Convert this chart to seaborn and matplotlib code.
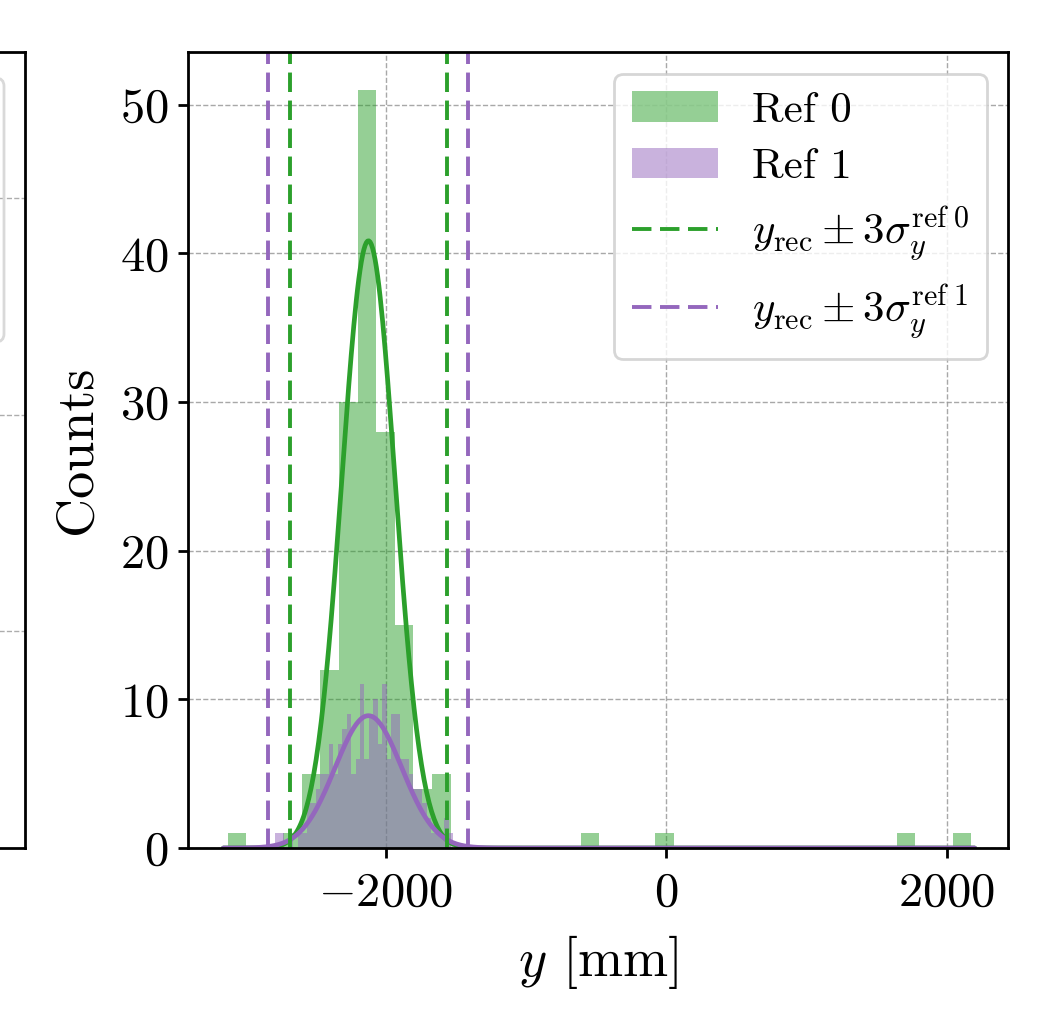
import numpy as np
import pandas as pd
import matplotlib
matplotlib.use("Agg")
import matplotlib.pyplot as plt
from matplotlib.patches import FancyBboxPatch
import seaborn as sns

# ---------------- data ----------------
# Ref 0 histogram (40 bins)
ref0_range = (-3130.0, 2175.0)
ref0_counts = [1, 0, 0, 1, 5, 12, 30, 51, 28, 15,
               4, 5, 0, 0, 0, 0, 0, 0, 0, 1,
               0, 0, 0, 1, 0, 0, 0, 0, 0, 0,
               0, 0, 0, 0, 0, 0, 1, 0, 0, 1]
# Ref 1 histogram (40 bins)
ref1_range = (-2788.0, -1519.0)
ref1_counts = [1, 1, 0, 1, 0, 1, 1, 3, 3, 4,
               5, 5, 7, 5, 7, 8, 9, 5, 6, 11,
               6, 9, 10, 7, 11, 6, 9, 9, 6, 6,
               5, 4, 4, 3, 2, 1, 1, 1, 2, 1]
# Gaussian fits: (mean, sigma, amplitude)
fit_ref0 = (-2125.0, 190.0, 40.85)
fit_ref1 = (-2125.0, 238.0, 8.9)
# y_rec +/- 3 sigma lines
lines_ref0 = [-2681.0, -1561.0]
lines_ref1 = [-2838.0, -1412.0]
xticks = [-2000, 0, 2000]
yticks = [0, 10, 20, 30, 40, 50]

C0 = "#2ca02c"
C1 = "#9467bd"
LAB0 = r"$y_{\mathrm{rec}} \pm 3\sigma_y^{\mathrm{ref}\;0}$"
LAB1 = r"$y_{\mathrm{rec}} \pm 3\sigma_y^{\mathrm{ref}\;1}$"

# ---------------- style ----------------
sns.set_style("white")
plt.rcParams["font.family"] = ["serif"]
plt.rcParams["font.serif"] = ["cmr10", "DejaVu Serif"]
plt.rcParams["mathtext.fontset"] = "cm"
plt.rcParams["axes.formatter.use_mathtext"] = True
plt.rcParams["axes.unicode_minus"] = True
for k in ["text.color", "axes.labelcolor", "xtick.color", "ytick.color"]:
    plt.rcParams[k] = "black"

fig = plt.figure(figsize=(10.64, 10.19), dpi=100)

# partial neighbouring panel on the left (mostly off-canvas)
axL = fig.add_axes([-0.5, 0.1678, 0.5235, 0.7812])
axL.set_ylim(0, 3.673)
axL.set_yticks([1, 2, 3])
axL.set_xticks([])
axL.set_yticklabels([])
axL.grid(True, axis="y", ls="--", lw=1.0, color="0.6", alpha=0.8)
for s in axL.spines.values():
    s.set_linewidth(2.0)
    s.set_color("black")
fig.patches.append(FancyBboxPatch((-60 / 1064, 1 - 342 / 1019), 64 / 1064, 264 / 1019,
                                  boxstyle="round,pad=0,rounding_size=0.008",
                                  transform=fig.transFigure, facecolor="none",
                                  edgecolor="0.85", linewidth=2.0))

ax = fig.add_axes([0.1767, 0.1678, 0.7707, 0.7812])

def hist(counts, rng, color, label):
    edges = np.linspace(rng[0], rng[1], len(counts) + 1)
    centers = 0.5 * (edges[:-1] + edges[1:])
    df = pd.DataFrame({"x": centers, "w": np.asarray(counts, dtype=float)})
    sns.histplot(data=df, x="x", weights="w", bins=[float(e) for e in edges],
                 color=color, alpha=0.5, linewidth=0, edgecolor="none",
                 label=label, ax=ax)

hist(ref0_counts, ref0_range, C0, "Ref 0")
hist(ref1_counts, ref1_range, C1, "Ref 1")

xs = np.linspace(-3160, 2200, 600)
for (mu, sg, amp), col in [(fit_ref0, C0), (fit_ref1, C1)]:
    df = pd.DataFrame({"x": xs, "y": amp * np.exp(-0.5 * ((xs - mu) / sg) ** 2)})
    sns.lineplot(data=df, x="x", y="y", color=col, lw=3.4, ax=ax)

dash = (0, (5.0, 2.2))
for i, v in enumerate(lines_ref0):
    ax.axvline(v, color=C0, lw=2.8, ls=dash, label=LAB0 if i == 0 else None)
for i, v in enumerate(lines_ref1):
    ax.axvline(v, color=C1, lw=2.8, ls=dash, label=LAB1 if i == 0 else None)

ax.set_xlim(-3412, 2438)
ax.set_ylim(0, 53.55)
ax.set_xticks(xticks)
ax.set_yticks(yticks)
ax.grid(True, ls="--", lw=1.0, color="0.6", alpha=0.85)
ax.set_axisbelow(True)
ax.tick_params(axis="both", labelsize=35, direction="out", length=7, width=2,
               left=True, bottom=True, colors="black")
ax.tick_params(axis="x", pad=10)
ax.tick_params(axis="y", pad=7)
for s in ax.spines.values():
    s.set_linewidth(2.0)
    s.set_color("black")
ax.set_xlabel(r"$y$ [mm]", fontsize=39, labelpad=12)
ax.set_ylabel("Counts", fontsize=39, labelpad=14)

handles, labels = ax.get_legend_handles_labels()
order = ["Ref 0", "Ref 1", LAB0, LAB1]
hmap = dict(zip(labels, handles))
leg = ax.legend([hmap[l] for l in order], order, loc="upper right",
                bbox_to_anchor=(0.974, 0.972), borderaxespad=0, fontsize=31,
                frameon=True, fancybox=True, framealpha=0.8, edgecolor="0.8",
                labelspacing=0.42)
leg.get_frame().set_linewidth(2.0)

fig.savefig("out.png", dpi=100)
